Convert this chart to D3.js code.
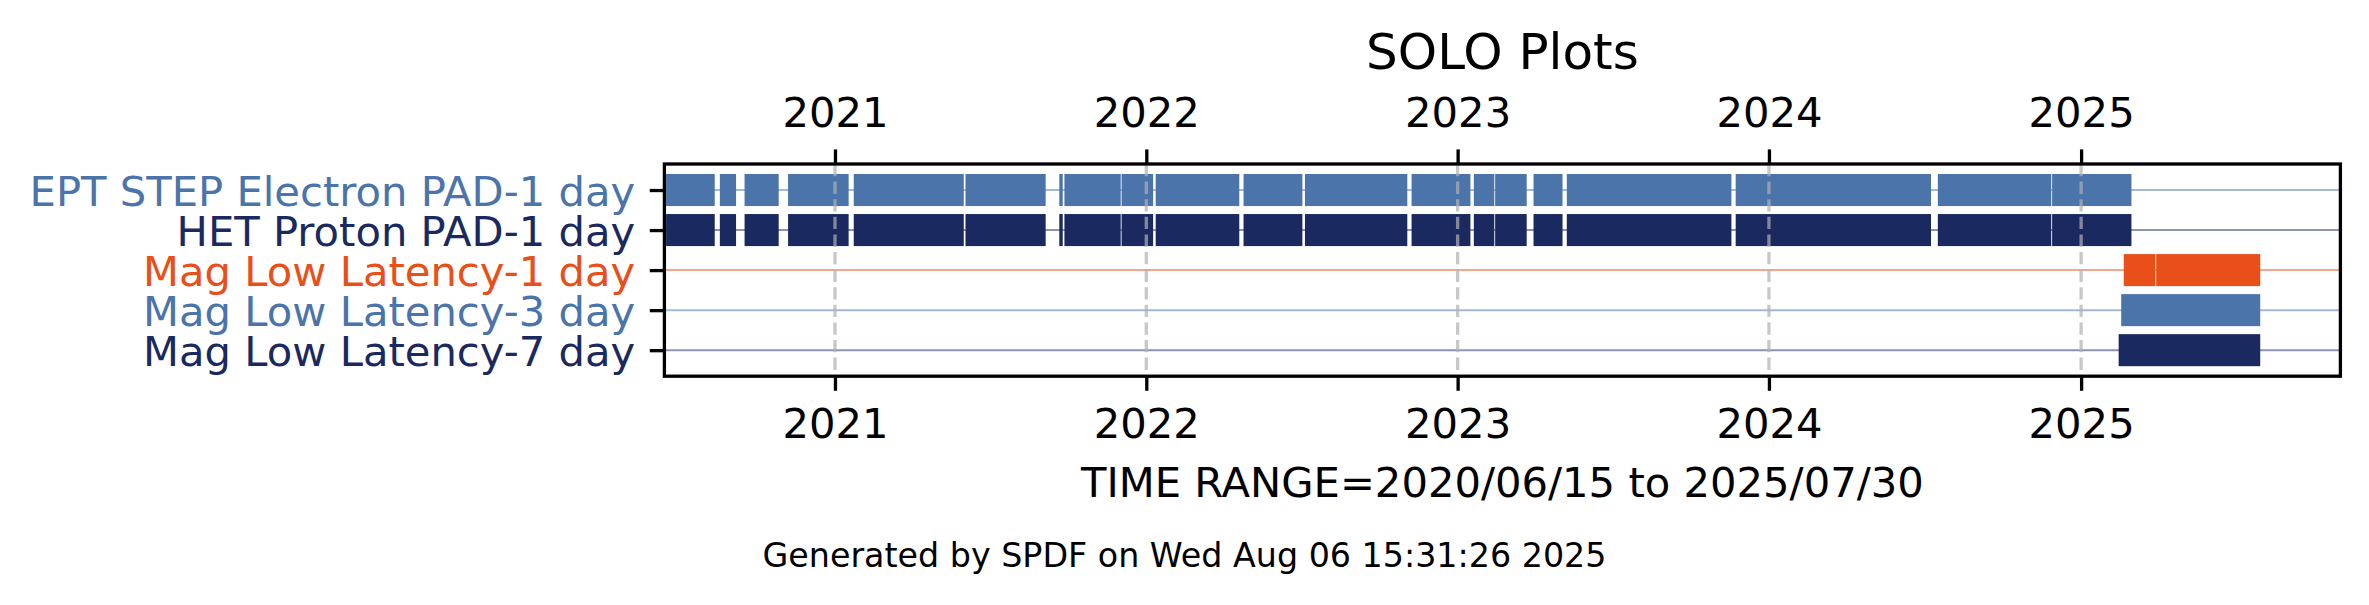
<!DOCTYPE html>
<html>
<head>
<meta charset="utf-8">
<script src="https://cdn.jsdelivr.net/npm/d3@7"></script>
<style>
  html, body { margin: 0; padding: 0; background: #ffffff; }
  svg { display: block; }
  text { font-family: "DejaVu Sans", sans-serif; }
</style>
</head>
<body>
<svg id="chart" width="2369" height="605"></svg>
<script>
// ---------------- data ----------------
const categories = [
  "EPT STEP Electron PAD-1 day",
  "HET Proton PAD-1 day",
  "Mag Low Latency-1 day",
  "Mag Low Latency-3 day",
  "Mag Low Latency-7 day"
];
const categoryColors = ["#4a74aa", "#1a2960", "#ea4f19", "#4a74aa", "#1a2960"];

const eptSegments = [
  ["2020-06-17", "2020-08-13"], ["2020-08-19", "2020-09-07"], ["2020-09-17", "2020-10-27"],
  ["2020-11-07", "2021-01-17"], ["2021-01-23", "2021-06-01"], ["2021-06-03", "2021-09-05"],
  ["2021-09-21", "2021-09-25"], ["2021-09-27", "2021-12-02"], ["2021-12-03", "2022-01-09"],
  ["2022-01-12", "2022-04-20"], ["2022-04-25", "2022-07-03"], ["2022-07-06", "2022-11-03"],
  ["2022-11-08", "2023-01-16"], ["2023-01-20", "2023-02-13"], ["2023-02-14", "2023-03-23"],
  ["2023-03-31", "2023-05-04"], ["2023-05-09", "2023-11-18"], ["2023-11-23", "2024-07-09"],
  ["2024-07-17", "2024-11-27"], ["2024-11-28", "2025-03-01"]
];
const hetSegments = [
  ["2020-06-17", "2020-08-13"], ["2020-08-19", "2020-09-07"], ["2020-09-17", "2020-10-27"],
  ["2020-11-07", "2021-01-17"], ["2021-01-23", "2021-06-01"], ["2021-06-03", "2021-09-05"],
  ["2021-09-21", "2021-09-25"], ["2021-09-27", "2021-12-02"], ["2021-12-03", "2022-01-09"],
  ["2022-01-12", "2022-04-20"], ["2022-04-25", "2022-07-03"], ["2022-07-06", "2022-11-03"],
  ["2022-11-08", "2023-01-16"], ["2023-01-20", "2023-02-13"], ["2023-02-14", "2023-03-23"],
  ["2023-03-31", "2023-05-04"], ["2023-05-09", "2023-11-18"], ["2023-11-23", "2024-07-09"],
  ["2024-07-17", "2024-11-27"], ["2024-11-28", "2025-03-01"]
];
const mag1Segments = [["2025-02-20", "2025-03-29"], ["2025-03-30", "2025-07-30"]];
const mag3Segments = [["2025-02-17", "2025-07-30"]];
const mag7Segments = [["2025-02-14", "2025-07-30"]];

const yearTicks = ["2021-01-01", "2022-01-01", "2023-01-01", "2024-01-01", "2025-01-01"];
const xDomain = ["2020-06-15", "2025-11-01"];

const titleText = "SOLO Plots";
const xLabelText = "TIME RANGE=2020/06/15 to 2025/07/30";
const footerText = "Generated by SPDF on Wed Aug 06 15:31:26 2025";

// ---------------- layout ----------------
const W = 2369, H = 605;
const plot = { left: 664.4, right: 2340.4, top: 164, bottom: 376.2 };
const fs = 41.7;          // 10pt @ 300dpi
const tickLen = 14.6;     // 3.5pt
const lw = 3.3;           // 0.8pt

const parse = d3.utcParse("%Y-%m-%d");
const x = d3.scaleUtc().domain(xDomain.map(parse)).range([plot.left, plot.right]);
const y = d3.scaleLinear().domain([-0.65, 4.65]).range([plot.top, plot.bottom]);
const barH = y(0.8) - y(0);

const allSegments = [eptSegments, hetSegments, mag1Segments, mag3Segments, mag7Segments];

const svg = d3.select("#chart");
svg.append("rect").attr("width", W).attr("height", H).attr("fill", "#ffffff");

const g = svg.append("g");

// row guide lines
g.selectAll("line.row").data(categories).join("line")
  .attr("class", "row")
  .attr("x1", plot.left).attr("x2", plot.right)
  .attr("y1", (d, i) => y(i)).attr("y2", (d, i) => y(i))
  .attr("stroke", (d, i) => categoryColors[i])
  .attr("stroke-opacity", 0.5)
  .attr("stroke-width", 2);

// bars
allSegments.forEach((segs, i) => {
  g.append("g").selectAll("rect").data(segs).join("rect")
    .attr("x", d => x(parse(d[0])))
    .attr("width", d => x(parse(d[1])) - x(parse(d[0])))
    .attr("y", y(i) - barH / 2)
    .attr("height", barH)
    .attr("fill", categoryColors[i]);
});

// vertical grid
g.selectAll("line.grid").data(yearTicks).join("line")
  .attr("class", "grid")
  .attr("x1", d => x(parse(d))).attr("x2", d => x(parse(d)))
  .attr("y1", plot.top).attr("y2", plot.bottom)
  .attr("stroke", "#b0b0b0").attr("stroke-opacity", 0.7)
  .attr("stroke-width", lw)
  .attr("stroke-dasharray", "12.3,5.3");

// frame
svg.append("rect")
  .attr("x", plot.left).attr("y", plot.top)
  .attr("width", plot.right - plot.left).attr("height", plot.bottom - plot.top)
  .attr("fill", "none").attr("stroke", "#000").attr("stroke-width", lw);

// x axes
const fmtYear = d3.utcFormat("%Y");
const xb = d3.axisBottom(x).tickValues(yearTicks.map(parse)).tickFormat(fmtYear).tickSize(tickLen);
const xt = d3.axisTop(x).tickValues(yearTicks.map(parse)).tickFormat(fmtYear).tickSize(tickLen);

const gxb = svg.append("g").attr("transform", `translate(0,${plot.bottom})`).call(xb);
const gxt = svg.append("g").attr("transform", `translate(0,${plot.top})`).call(xt);
[gxb, gxt].forEach(ga => {
  ga.select(".domain").remove();
  ga.selectAll(".tick line").attr("stroke", "#000").attr("stroke-width", lw);
  ga.selectAll(".tick text").attr("font-size", fs).attr("font-family", "DejaVu Sans").attr("fill", "#000");
});
gxb.selectAll(".tick text").attr("y", 438 - plot.bottom).attr("dy", 0);
gxt.selectAll(".tick text").attr("y", 127 - plot.top).attr("dy", 0);

// y axis
const ya = d3.axisLeft(y).tickValues(d3.range(categories.length))
  .tickFormat(i => categories[i]).tickSize(tickLen).tickPadding(14.6);
const gy = svg.append("g").attr("transform", `translate(${plot.left},0)`).call(ya);
gy.select(".domain").remove();
gy.selectAll(".tick line").attr("stroke", "#000").attr("stroke-width", lw);
gy.selectAll(".tick text")
  .attr("font-size", fs).attr("font-family", "DejaVu Sans")
  .attr("dy", "0.36em")
  .attr("fill", i => categoryColors[i]);

// title, x label, footer
const cx = (plot.left + plot.right) / 2;
svg.append("text").attr("x", cx).attr("y", 69).attr("text-anchor", "middle")
  .attr("font-size", 50).attr("fill", "#000").text(titleText);
svg.append("text").attr("x", cx).attr("y", 497).attr("text-anchor", "middle")
  .attr("font-size", fs).attr("fill", "#000").text(xLabelText);
svg.append("text").attr("x", W / 2).attr("y", 567).attr("text-anchor", "middle")
  .attr("font-size", 33.3).attr("fill", "#000").text(footerText);
</script>
</body>
</html>
